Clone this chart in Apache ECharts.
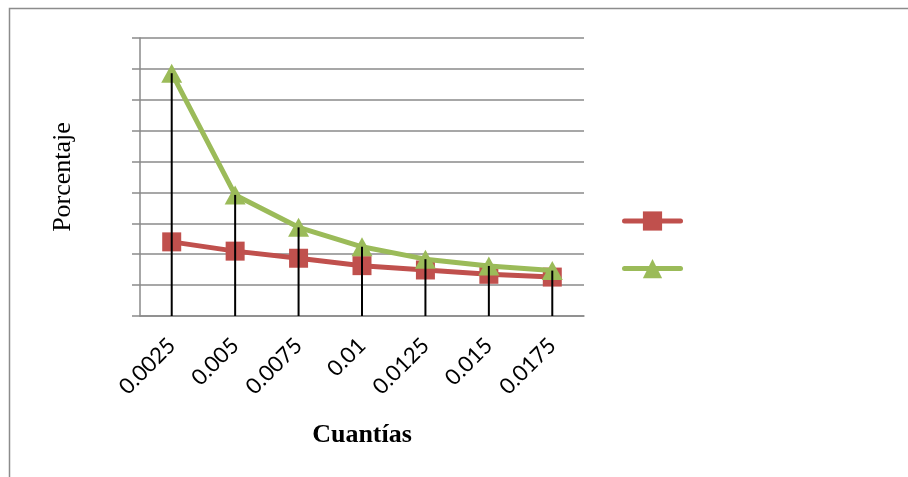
<!DOCTYPE html>
<html>
<head>
<meta charset="utf-8">
<script src="https://cdn.jsdelivr.net/npm/echarts@6/dist/echarts.min.js"></script>
<style>
  html, body { margin: 0; padding: 0; background: #fff; }
  #chart { width: 908px; height: 477px; }
</style>
</head>
<body>
<div id="chart"></div>
<script>
// Categories along the x axis
const cuantias = ['0.0025', '0.005', '0.0075', '0.01', '0.0125', '0.015', '0.0175'];
// Two series of percentages
const serieRoja = [2.40, 2.10, 1.87, 1.63, 1.49, 1.35, 1.26];
const serieVerde = [7.86, 3.92, 2.87, 2.24, 1.84, 1.62, 1.47];
// Drop lines reach the higher of the two points in each category
const lineasCaida = serieRoja.map((v, i) => Math.max(v, serieVerde[i]));

const chart = echarts.init(document.getElementById('chart'), null, { renderer: 'canvas' });

const gridColor = '#8a8a8a';

chart.setOption({
  animation: false,
  backgroundColor: '#ffffff',
  graphic: [{
    type: 'rect',
    shape: { x: 9.5, y: 8.5, width: 1000, height: 1000 },
    style: { fill: 'none', stroke: '#8c8c8c', lineWidth: 1.5 },
    silent: true,
    z: -10
  }],
  grid: { left: 140, right: 324, top: 38, bottom: 161 },
  legend: {
    data: ['Serie 1', 'Serie 2'],
    orient: 'vertical',
    left: 617,
    top: 204,
    itemWidth: 56,
    itemHeight: 24,
    itemGap: 26,
    lineStyle: { width: 5, cap: 'round' },
    formatter: () => '',
    selectedMode: false
  },
  xAxis: {
    type: 'category',
    data: cuantias,
    boundaryGap: true,
    axisLine: { lineStyle: { color: gridColor, width: 1.5 } },
    axisTick: { show: false },
    axisLabel: {
      rotate: 45,
      margin: 26,
      color: '#000',
      fontFamily: 'Lato',
      fontSize: 22
    },
    name: 'Cuantías',
    nameLocation: 'middle',
    nameGap: 106,
    nameTextStyle: {
      fontFamily: 'Liberation Serif',
      fontWeight: 'bold',
      fontSize: 26,
      color: '#000'
    }
  },
  yAxis: {
    type: 'value',
    min: 0,
    max: 9,
    interval: 1,
    axisLine: { show: true, lineStyle: { color: gridColor, width: 1.5 } },
    axisTick: { show: true, length: 8, lineStyle: { color: gridColor, width: 1.5 } },
    axisLabel: { show: false },
    splitLine: { show: true, lineStyle: { color: gridColor, width: 1.5 } },
    name: 'Porcentaje',
    nameLocation: 'middle',
    nameRotate: 90,
    nameGap: 64,
    nameTextStyle: {
      fontFamily: 'Liberation Serif',
      fontSize: 26,
      color: '#000'
    }
  },
  series: [
    {
      name: 'Serie 1',
      type: 'line',
      data: serieRoja,
      symbol: 'rect',
      symbolSize: 19,
      lineStyle: { color: '#C0504D', width: 5 },
      itemStyle: { color: '#C0504D' },
      z: 3
    },
    {
      name: 'Serie 2',
      type: 'line',
      data: serieVerde,
      symbol: 'triangle',
      symbolSize: [21, 19],
      lineStyle: { color: '#9BBB59', width: 5 },
      itemStyle: { color: '#9BBB59' },
      z: 4
    },
    {
      name: 'caida',
      type: 'bar',
      data: lineasCaida,
      barWidth: 2,
      itemStyle: { color: '#000' },
      silent: true,
      z: 6
    }
  ]
});
</script>
</body>
</html>
